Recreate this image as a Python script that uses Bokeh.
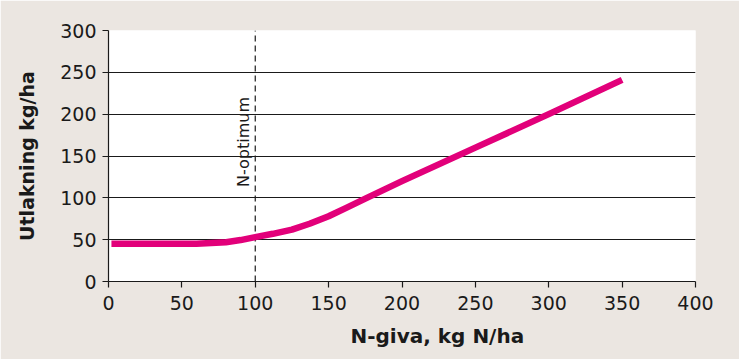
from bokeh.plotting import figure
from bokeh.models import Range1d, Label, FixedTicker, Title
from bokeh.embed import file_html
from bokeh.resources import INLINE

# Data
n_giva = [2, 20, 40, 60, 80, 90, 100, 112, 125, 137, 150, 162, 175, 200, 250, 300, 350]
utlakning = [45, 45, 45, 45, 47, 49.5, 53, 57, 62, 69, 78, 88, 99, 120, 160, 200, 241]
n_optimum = 100
x_ticks = [0, 50, 100, 150, 200, 250, 300, 350, 400]
y_ticks = [0, 50, 100, 150, 200, 250, 300]
x_title = "N-giva, kg N/ha"
y_title = "Utlakning kg/ha"
opt_label = "N-optimum"

BG = "#ebe6e1"
INK = "#1a1a1a"
MAGENTA = "#e2007a"

p = figure(frame_width=587, frame_height=251,
           min_border_left=108, min_border_right=44,
           min_border_top=30, min_border_bottom=78,
           x_range=Range1d(0, 400), y_range=Range1d(0, 300),
           output_backend="svg", toolbar_location=None,
           background_fill_color="white", border_fill_color=BG)
p.outline_line_color = None

p.xaxis.ticker = FixedTicker(ticks=x_ticks)
p.yaxis.ticker = FixedTicker(ticks=y_ticks)
for ax in (p.xaxis, p.yaxis):
    ax.axis_line_color = INK
    ax.axis_line_width = 1.2
    ax.major_tick_line_color = INK
    ax.major_tick_line_width = 1.2
    ax.major_tick_out = 6
    ax.major_tick_in = 0
    ax.minor_tick_line_color = None
    ax.major_label_text_font = "DejaVu Sans"
    ax.major_label_text_font_size = "19px"
    ax.major_label_text_color = INK
p.xaxis.major_label_standoff = 8
p.yaxis.major_label_standoff = 6

p.xgrid.grid_line_color = None
p.ygrid.grid_line_color = INK
p.ygrid.grid_line_width = 1.2

p.yaxis.axis_label = y_title
p.yaxis.axis_label_text_font = "DejaVu Sans"
p.yaxis.axis_label_text_font_style = "bold"
p.yaxis.axis_label_text_font_size = "19px"
p.yaxis.axis_label_text_color = INK
p.yaxis.axis_label_standoff = 19

# dashed optimum line
p.segment(x0=[n_optimum], y0=[0], x1=[n_optimum], y1=[300],
          line_color=INK, line_width=1.2, line_dash="6 4")

p.line(n_giva, utlakning, line_color=MAGENTA, line_width=6.5, line_cap="butt", line_join="round")

p.add_layout(Label(x=92, y=113, text=opt_label, angle=1.5708,
                   text_align="left", text_baseline="alphabetic",
                   text_font="DejaVu Sans", text_font_size="16px", text_color=INK))

p.add_layout(Title(text=x_title, align="left", offset=242, standoff=18,
                   text_font="DejaVu Sans", text_font_style="bold",
                   text_font_size="20px", text_color=INK), "below")

open("out.html", "w").write(file_html(p, INLINE))
